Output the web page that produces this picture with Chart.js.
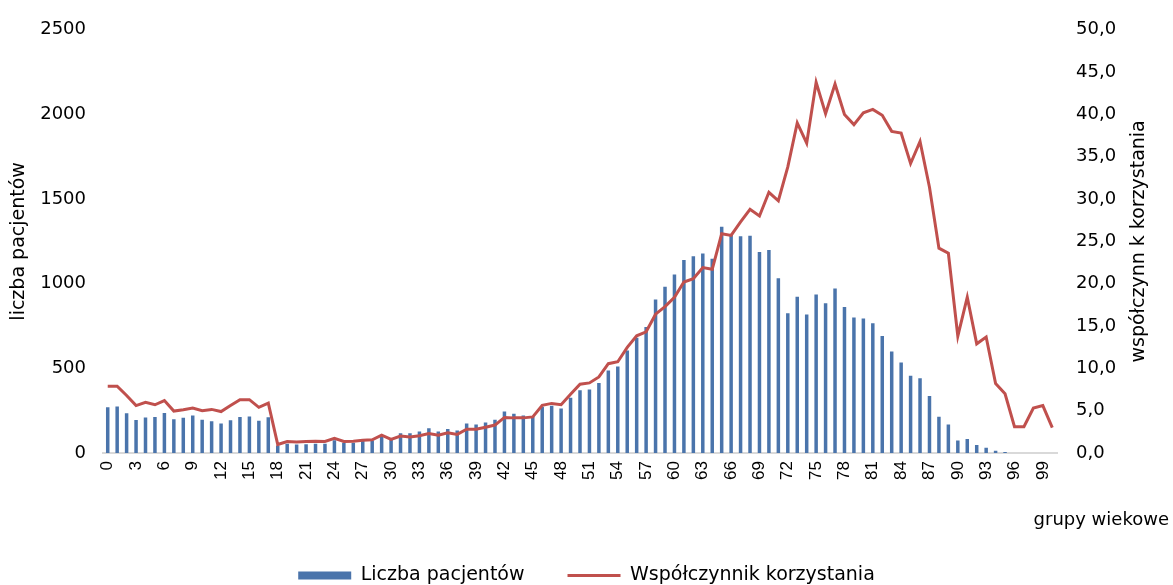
<!DOCTYPE html>
<html>
<head>
<meta charset="utf-8">
<script src="https://cdn.jsdelivr.net/npm/chart.js@4"></script>
<style>
  html, body { margin: 0; padding: 0; background: #fff; }
  #wrap { width: 1173px; height: 585px; position: relative; }
</style>
</head>
<body>
<div id="wrap"><canvas id="c" width="1173" height="585"></canvas></div>
<script>
const ageGroups = ['0','1','2','3','4','5','6','7','8','9','10','11','12','13','14','15','16','17','18','19',
  '20','21','22','23','24','25','26','27','28','29','30','31','32','33','34','35','36','37','38','39',
  '40','41','42','43','44','45','46','47','48','49','50','51','52','53','54','55','56','57','58','59',
  '60','61','62','63','64','65','66','67','68','69','70','71','72','73','74','75','76','77','78','79',
  '80','81','82','83','84','85','86','87','88','89','90','91','92','93','94','95','96','97','98','99','100'];

const patients = [270,275,235,195,210,213,237,200,208,221,196,187,174,193,213,215,190,211,45,55,
  50,52,55,55,76,61,61,74,74,105,82,117,117,127,146,127,142,133,174,168,
  180,197,245,232,222,215,273,279,263,326,371,375,414,488,511,605,681,745,907,982,
  1054,1140,1163,1179,1148,1337,1288,1280,1284,1188,1199,1032,826,923,818,937,884,972,863,800,
  794,767,691,599,535,457,442,337,214,168,74,82,47,31,14,6,0,0,0,0,0];

const usageRate = [7.9,7.9,6.8,5.6,6.0,5.7,6.2,4.95,5.1,5.3,5.0,5.15,4.9,5.6,6.3,6.3,5.4,5.9,1.0,1.35,
  1.3,1.37,1.4,1.37,1.72,1.37,1.4,1.52,1.56,2.1,1.6,2.0,1.9,2.05,2.3,2.1,2.4,2.2,2.8,2.8,
  3.05,3.3,4.2,4.15,4.15,4.26,5.63,5.86,5.7,6.95,8.13,8.28,8.99,10.55,10.78,12.48,13.85,14.32,16.4,17.3,
  18.4,20.2,20.6,21.9,21.7,25.9,25.7,27.3,28.8,28.0,30.8,29.8,33.8,39.0,36.6,43.8,40.1,43.6,40.0,38.8,
  40.2,40.6,39.9,38.0,37.8,34.2,36.8,31.4,24.2,23.6,13.8,18.4,12.9,13.7,8.2,7.0,3.1,3.1,5.3,5.6,3.0];

const leftTicksMax = 2500, leftStep = 500;
const rightTicksMax = 50, rightStep = 5;

const FONT = '"DejaVu Sans", Verdana, sans-serif';
const FONT_X = '"Liberation Sans", Arial, sans-serif';

const extraText = {
  id: 'extraText',
  afterDraw(chart) {
    const ctx = chart.ctx;
    const ca = chart.chartArea;
    ctx.save();
    ctx.fillStyle = '#000';
    ctx.font = '18px ' + FONT;
    // x axis title
    ctx.textAlign = 'right';
    ctx.textBaseline = 'middle';
    ctx.fillText('grupy wiekowe', 1169, 520);
    // right axis title, reading upward
    ctx.font = '19px ' + FONT;
    ctx.translate(1139, (ca.top + ca.bottom) / 2);
    ctx.rotate(-Math.PI / 2);
    ctx.textAlign = 'center';
    ctx.fillText('współczynn k korzystania', 0, 0);
    ctx.restore();
  }
};

new Chart(document.getElementById('c'), {
  data: {
    labels: ageGroups,
    datasets: [
      {
        type: 'bar',
        label: 'Liczba pacjentów',
        data: patients,
        backgroundColor: '#4a74ab',
        borderWidth: 0,
        barPercentage: 0.37,
        categoryPercentage: 1.0,
        yAxisID: 'y',
        order: 2,
        pointStyle: 'rect'
      },
      {
        type: 'line',
        label: 'Współczynnik korzystania',
        data: usageRate,
        borderColor: '#c0504d',
        backgroundColor: '#c0504d',
        borderWidth: 3,
        pointRadius: 0,
        tension: 0,
        yAxisID: 'y1',
        order: 1,
        pointStyle: 'line'
      }
    ]
  },
  options: {
    responsive: false,
    animation: false,
    devicePixelRatio: 1,
    layout: { padding: { top: 27, bottom: -10, left: 0, right: 0 } },
    plugins: {
      tooltip: { enabled: false },
      legend: {
        position: 'bottom',
        labels: {
          usePointStyle: true,
          pointStyleWidth: 53,
          boxHeight: 8,
          padding: 43,
          color: '#000',
          font: { family: FONT, size: 19 },
          sort: (a, b) => a.datasetIndex - b.datasetIndex
        }
      }
    },
    scales: {
      x: {
        offset: true,
        grid: { display: false, drawTicks: false },
        border: { display: true, color: '#d9d9d9', width: 2 },
        ticks: {
          autoSkip: false,
          maxRotation: 90,
          minRotation: 90,
          padding: 8,
          color: '#000',
          font: { family: FONT_X, size: 17 },
          callback: function (v, i) { return i % 3 === 0 ? ageGroups[i] : ''; }
        },
        afterFit: (s) => { s.height = 70; }
      },
      y: {
        position: 'left',
        min: 0,
        max: leftTicksMax,
        grid: { display: false, drawTicks: false },
        border: { display: false },
        ticks: {
          stepSize: leftStep,
          padding: 17,
          color: '#000',
          font: { family: FONT, size: 18 },
          callback: (v) => String(v)
        },
        title: {
          display: true,
          text: 'liczba pacjentów',
          color: '#000',
          font: { family: FONT, size: 19 },
          padding: { top: 8, bottom: 0 }
        },
        afterFit: (s) => { s.width = 103; }
      },
      y1: {
        position: 'right',
        min: 0,
        max: rightTicksMax,
        grid: { display: false, drawTicks: false },
        border: { display: false },
        ticks: {
          stepSize: rightStep,
          padding: 19,
          color: '#000',
          font: { family: FONT, size: 18 },
          callback: (v) => v.toFixed(1).replace('.', ',')
        },
        afterFit: (s) => { s.width = 116; }
      }
    }
  },
  plugins: [extraText]
});
</script>
</body>
</html>
